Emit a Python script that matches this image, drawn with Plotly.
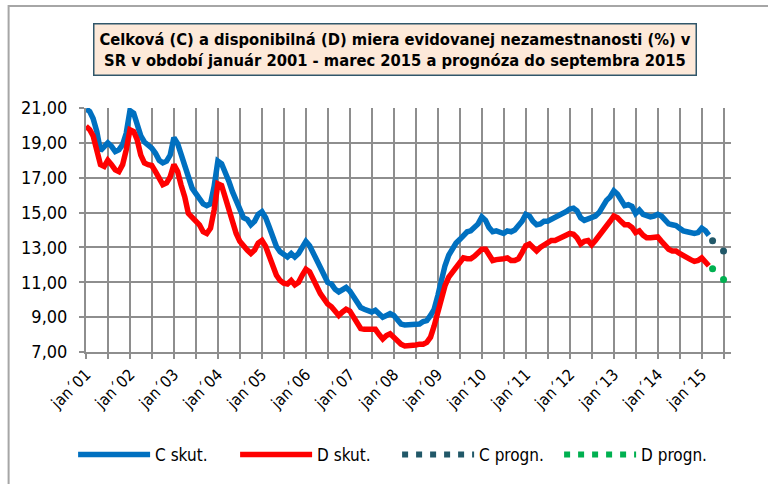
import pandas as pd
import plotly.graph_objects as go

# ---- data ----
months = pd.date_range("2001-01-01", periods=171, freq="MS")  # jan 2001 .. mar 2015

c_skut = [
    20.95, 20.8, 20.4, 19.65, 18.55, 18.8, 19.0, 18.8, 18.5, 18.6, 18.9, 19.55,   # 2001
    20.85, 20.7, 20.15, 19.4, 19.05, 18.9, 18.7, 18.4, 18.0, 17.85, 17.95, 18.3,  # 2002
    19.3, 18.95, 18.3, 17.6, 16.9, 16.4, 16.1, 15.8, 15.5, 15.4, 15.5, 16.5,      # 2003
    17.95, 17.8, 17.35, 16.8, 16.2, 15.65, 15.15, 14.7, 14.6, 14.3, 14.5, 14.9,   # 2004
    15.05, 14.7, 14.2, 13.5, 13.05, 12.75, 12.55, 12.45, 12.65, 12.45, 12.65, 13.05,  # 2005
    13.35, 13.1, 12.7, 12.15, 11.7, 11.4, 11.0, 10.9, 10.6, 10.45, 10.6, 10.7,    # 2006
    10.5, 10.15, 9.75, 9.55, 9.45, 9.4, 9.3, 9.4, 9.15, 9.0, 9.1, 9.2,            # 2007
    9.1, 8.8, 8.6, 8.55, 8.55, 8.55, 8.55, 8.6, 8.75, 8.8, 9.1, 9.45,             # 2008
    10.25, 11.2, 11.95, 12.55, 12.9, 13.25, 13.45, 13.7, 13.9, 13.95, 14.15, 14.35,  # 2009
    14.75, 14.55, 14.15, 13.9, 13.95, 13.9, 13.8, 13.95, 13.9, 14.0, 14.2, 14.5,  # 2010
    14.9, 14.8, 14.5, 14.3, 14.35, 14.5, 14.5, 14.6, 14.7, 14.8, 14.9, 15.05,     # 2011
    15.2, 15.25, 15.1, 14.7, 14.55, 14.65, 14.75, 14.8, 15.0, 15.4, 15.7, 15.9,   # 2012
    16.25, 16.05, 15.7, 15.4, 15.45, 15.35, 14.95, 15.15, 14.9, 14.8, 14.75, 14.8,  # 2013
    14.9, 14.8, 14.55, 14.35, 14.3, 14.25, 14.1, 13.95, 13.9, 13.85, 13.8, 13.85,  # 2014
    14.1, 13.95, 13.7,                                                            # 2015
]

d_skut = [
    19.95, 19.75, 19.4, 18.6, 17.75, 17.65, 18.0, 17.75, 17.45, 17.35, 17.75, 18.6,  # 2001
    19.75, 19.65, 19.2, 18.3, 17.85, 17.75, 17.7, 17.35, 16.9, 16.6, 16.7, 17.05,    # 2002
    17.75, 17.35, 16.6, 15.9, 14.95, 14.7, 14.55, 14.3, 13.9, 13.8, 14.1, 15.15,     # 2003
    16.65, 16.55, 15.9, 15.15, 14.4, 13.8, 13.35, 13.05, 12.85, 12.65, 12.85, 13.25, # 2004
    13.4, 13.05, 12.55, 11.9, 11.4, 11.1, 10.95, 10.9, 11.1, 10.85, 11.0, 11.4,      # 2005
    11.75, 11.6, 11.2, 10.6, 10.35, 10.05, 9.75, 9.6, 9.3, 9.1, 9.3, 9.45,           # 2006
    9.35, 9.0, 8.6, 8.35, 8.3, 8.3, 8.25, 8.3, 8.0, 7.75, 7.95, 8.05,                # 2007
    7.85, 7.6, 7.45, 7.35, 7.35, 7.4, 7.4, 7.45, 7.45, 7.55, 7.85, 8.5,              # 2008
    9.3, 10.15, 10.8, 11.3, 11.6, 11.85, 12.1, 12.4, 12.35, 12.35, 12.5, 12.7,       # 2009
    12.9, 12.9, 12.65, 12.25, 12.3, 12.3, 12.35, 12.4, 12.25, 12.25, 12.35, 12.7,    # 2010
    13.1, 13.2, 13.0, 12.8, 13.0, 13.15, 13.25, 13.4, 13.4, 13.5, 13.6, 13.75,       # 2011
    13.8, 13.75, 13.55, 13.2, 13.35, 13.4, 13.15, 13.4, 13.65, 13.95, 14.15, 14.5,   # 2012
    14.8, 14.7, 14.5, 14.3, 14.3, 14.15, 13.85, 13.95, 13.7, 13.55, 13.55, 13.6,     # 2013
    13.6, 13.35, 13.1, 12.9, 12.8, 12.8, 12.65, 12.5, 12.4, 12.3, 12.2, 12.25,       # 2014
    12.4, 12.2, 11.95,                                                               # 2015
]

progn_dates = ["2015-04-01", "2015-07-01"]
c_progn = [13.38, 12.79]
d_progn = [11.77, 11.16]

tick_dates = pd.date_range("2001-01-01", "2015-07-01", freq="6MS")
tick_labels = [("jan\u00b4" + d.strftime("%y")) if d.month == 1 else "" for d in tick_dates]

series_names = ["C skut.", "D skut.", "C progn.", "D progn."]
title_text = ("Celková (C) a disponibilná (D) miera evidovanej nezamestnanosti (%) v<br>"
              "SR v období január 2001 - marec 2015 a prognóza do septembra 2015")

# ---- styling ----
FONT = "Liberation Sans Narrow, Arial Narrow, DejaVu Sans Condensed, sans-serif"
BLUE = "#0070C0"
RED = "#FF0000"
TEAL = "#215868"
GREEN = "#00B050"
GRID = "#8E8E8E"

fig = go.Figure()
fig.add_trace(go.Scatter(x=months, y=c_skut, mode="lines", name=series_names[0],
                         line=dict(color=BLUE, width=5.5)))
fig.add_trace(go.Scatter(x=months, y=d_skut, mode="lines", name=series_names[1],
                         line=dict(color=RED, width=5.5)))
fig.add_trace(go.Scatter(x=progn_dates, y=c_progn, mode="markers", showlegend=False,
                         marker=dict(color=TEAL, size=7)))
fig.add_trace(go.Scatter(x=progn_dates, y=d_progn, mode="markers", showlegend=False,
                         marker=dict(color=GREEN, size=7)))
# legend entries for forecasts (dotted)
fig.add_trace(go.Scatter(x=[None], y=[None], mode="lines", name=series_names[2],
                         line=dict(color=TEAL, width=6, dash="6px,8px")))
fig.add_trace(go.Scatter(x=[None], y=[None], mode="lines", name=series_names[3],
                         line=dict(color=GREEN, width=6, dash="6px,8px")))

fig.update_layout(
    width=768, height=484,
    margin=dict(l=86, r=37, t=108, b=132, autoexpand=False),
    paper_bgcolor="white", plot_bgcolor="white",
    separators=", ",
    font=dict(family=FONT, color="black", size=15),
    showlegend=True,
    legend=dict(orientation="h", x=-0.02, xanchor="left", y=-0.422, yanchor="middle",
                entrywidth=75, itemwidth=72, font=dict(size=17, family=FONT),
                traceorder="normal"),
)

fig.update_xaxes(
    type="date", range=["2001-01-01", "2015-09-01"],
    tickmode="array", tickvals=tick_dates, ticktext=tick_labels,
    tickangle=-45, tickfont=dict(size=16, family=FONT),
    showgrid=True, gridcolor=GRID, gridwidth=2,
    ticks="outside", ticklen=5, tickcolor=GRID, tickwidth=2,
    showline=True, linecolor=GRID, linewidth=2, zeroline=False, automargin=False,
)
fig.update_yaxes(
    range=[7, 21], tick0=7, dtick=2, tickformat=".2f",
    tickfont=dict(size=18, family=FONT),
    showgrid=True, gridcolor=GRID, gridwidth=2,
    ticks="outside", ticklen=5, tickcolor=GRID, tickwidth=2,
    showline=True, linecolor=GRID, linewidth=2, zeroline=False,
    ticklabelstandoff=8, automargin=False,
)

fig.add_annotation(
    xref="paper", yref="paper", x=0.479, y=1.240, xanchor="center", yanchor="middle",
    text="<b>" + title_text + "</b>", showarrow=False, align="center",
    font=dict(family=FONT, size=16.4, color="black"),
    bgcolor="#FDE9D9", bordercolor="#31576B", borderwidth=1.5, borderpad=5,
)

# outer chart frame (left and top edges visible)
fig.add_shape(type="rect", xref="paper", yref="paper", x0=-0.120, y0=-0.7, x1=1.2, y1=1.418,
              line=dict(color="#A6A6A6", width=2), layer="below")

fig.write_html("out.html", config={"displayModeBar": False},
               post_script="document.body.style.margin='0px';")
